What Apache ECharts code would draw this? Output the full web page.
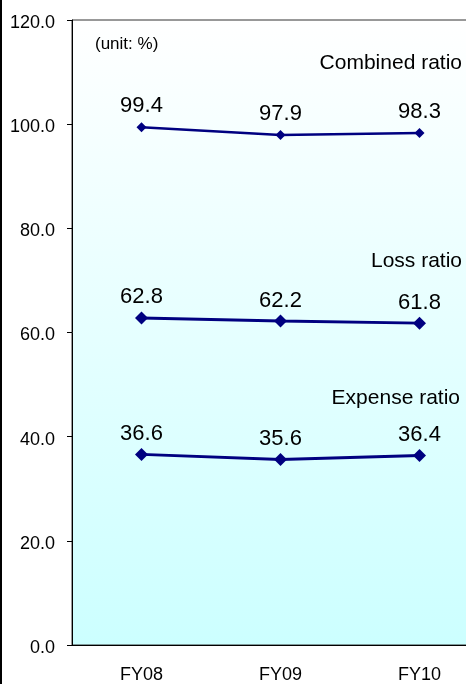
<!DOCTYPE html>
<html><head><meta charset="utf-8">
<script src="https://cdn.jsdelivr.net/npm/echarts@6/dist/echarts.min.js"></script>
<style>html,body{margin:0;padding:0;background:#fff;overflow:hidden;width:466px;height:684px}#c{width:489px;height:684px}</style>
</head><body><div id="c"></div>
<script>
const categories = ['FY08', 'FY09', 'FY10'];
const combinedRatio = [99.4, 97.9, 98.3];
const lossRatio = [62.8, 62.2, 61.8];
const expenseRatio = [36.6, 35.6, 36.4];
const seriesNames = ['Combined ratio', 'Loss ratio', 'Expense ratio'];
const unitText = '(unit: %)';

const FONT = '"Liberation Sans", Arial, sans-serif';
const navy = '#000080';
const chart = echarts.init(document.getElementById('c'), null, {renderer: 'canvas'});

function mk(name, data, size, lw, dist) {
  return {
    name, type: 'line', data,
    symbol: 'diamond', symbolSize: size,
    lineStyle: {color: navy, width: lw},
    itemStyle: {color: navy},
    label: {show: true, position: 'top', distance: dist, color: '#000', fontSize: 22, fontFamily: FONT,
      formatter: p => p.value.toFixed(1)},
    animation: false
  };
}

chart.setOption({
  animation: false,
  grid: {left: 72, top: 20, right: 0, bottom: 37, show: true, borderWidth: 1, borderColor: '#333',
    backgroundColor: new echarts.graphic.LinearGradient(0, 0, 0, 1, [{offset: 0, color: '#ffffff'}, {offset: 1, color: '#ccffff'}])},
  xAxis: {type: 'category', data: categories, boundaryGap: true,
    axisLine: {lineStyle: {color: '#000', width: 1}},
    axisTick: {inside: true, length: 5, lineStyle: {color: '#000'}},
    axisLabel: {color: '#000', fontSize: 18, fontFamily: FONT, margin: 21}},
  yAxis: {type: 'value', min: 0, max: 120, interval: 20,
    axisLine: {show: true, lineStyle: {color: '#000', width: 1}},
    axisTick: {show: true, length: 5, lineStyle: {color: '#000'}},
    splitLine: {show: false},
    axisLabel: {color: '#000', margin: 17, formatter: v => '{a|' + v.toFixed(1) + '}',
      rich: {a: {fontSize: 18, fontFamily: FONT, color: '#000', padding: [6, 0, 0, 0]}}}},
  series: [mk(seriesNames[0], combinedRatio, 10, 2.5, 5), mk(seriesNames[1], lossRatio, 13, 3, 3), mk(seriesNames[2], expenseRatio, 13, 3, 3)],
  graphic: [
    {type: 'rect', left: 0, top: 0, shape: {width: 2, height: 684}, style: {fill: '#000'}},
    {type: 'text', left: 95, top: 36, style: {text: unitText, fontSize: 17, fontFamily: FONT, fill: '#000'}},
    {type: 'text', right: 27, top: 53, style: {text: seriesNames[0], fontSize: 21, fontFamily: FONT, fill: '#000'}},
    {type: 'text', right: 27, top: 251, style: {text: seriesNames[1], fontSize: 21, fontFamily: FONT, fill: '#000'}},
    {type: 'text', right: 29, top: 388, style: {text: seriesNames[2], fontSize: 21, fontFamily: FONT, fill: '#000'}}
  ]
});
</script></body></html>
